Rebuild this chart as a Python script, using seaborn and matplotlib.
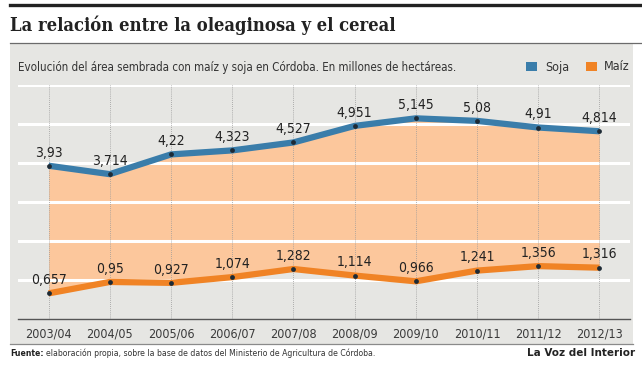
import matplotlib
matplotlib.use("Agg")
import matplotlib.pyplot as plt
import seaborn as sns
import pandas as pd
from matplotlib.patches import Rectangle
from matplotlib.lines import Line2D

# datos (millones de hectáreas)
campanas = ["2003/04", "2004/05", "2005/06", "2006/07", "2007/08",
            "2008/09", "2009/10", "2010/11", "2011/12", "2012/13"]
soja = [3.93, 3.714, 4.22, 4.323, 4.527, 4.951, 5.145, 5.08, 4.91, 4.814]
maiz = [0.657, 0.95, 0.927, 1.074, 1.282, 1.114, 0.966, 1.241, 1.356, 1.316]

df = pd.DataFrame({"idx": range(len(campanas)), "campana": campanas,
                   "soja": soja, "maiz": maiz})

AZUL = "#3a7daa"
NARANJA = "#f08325"
RELLENO = "#fcc79c"
GRIS = "#e6e6e3"
NARROW = dict(family=["DejaVu Sans"], fontstretch="condensed")

W, H = 642, 366
fig = plt.figure(figsize=(W / 100, H / 100), dpi=100)
fig.patch.set_facecolor("white")


def fx(px):
    return px / W


def fy(py):
    return 1 - py / H


# fondo gris y filetes
fig.patches.append(Rectangle((fx(10), fy(344)), fx(623), 301 / H, transform=fig.transFigure,
                             facecolor=GRIS, edgecolor="none", zorder=-5))
fig.lines.append(Line2D([fx(10), 1], [fy(5), fy(5)], transform=fig.transFigure,
                        color="#222222", lw=2.4))
fig.lines.append(Line2D([fx(10), 1], [fy(43), fy(43)], transform=fig.transFigure,
                        color="#6b6b6b", lw=0.9))
fig.lines.append(Line2D([fx(10), fx(633)], [fy(344), fy(344)], transform=fig.transFigure,
                        color="#8a8a8a", lw=0.9))

# titulo y subtitulo
fig.text(fx(10), fy(25), "La relación entre la oleaginosa y el cereal", fontsize=13.2,
         fontweight="bold", family=["DejaVu Serif"], fontstretch="condensed",
         color="#222222", va="center", ha="left")
fig.text(fx(18), fy(68), "Evolución del área sembrada con maíz y soja en Córdoba. En millones de hectáreas.",
         fontsize=8.3, color="#333333", va="center", ha="left", **NARROW)

# leyenda
fig.patches.append(Rectangle((fx(526), fy(71)), fx(11), 9 / H, transform=fig.transFigure,
                             facecolor=AZUL, edgecolor="none"))
fig.text(fx(545), fy(67), "Soja", fontsize=9, color="#333333", va="center", **NARROW)
fig.patches.append(Rectangle((fx(586), fy(71)), fx(11), 9 / H, transform=fig.transFigure,
                             facecolor=NARANJA, edgecolor="none"))
fig.text(fx(604), fy(67), "Maíz", fontsize=9, color="#333333", va="center", **NARROW)

ax = fig.add_axes([fx(18), fy(319), fx(612), 234 / H])
ax.set_facecolor("none")

# area entre las dos series
ax.fill_between(df["idx"], df["maiz"], df["soja"], color=RELLENO, lw=0, zorder=1)

for y in range(1, 7):
    ax.axhline(y, color="white", lw=2.2, zorder=2)
for i in df["idx"]:
    ax.axvline(i, color="#9a9a9a", lw=0.6, ls=(0, (1, 1.5)), zorder=2)

sns.lineplot(data=df, x="idx", y="soja", color=AZUL, lw=4.5, ax=ax, zorder=3,
             solid_capstyle="butt")
sns.lineplot(data=df, x="idx", y="maiz", color=NARANJA, lw=4.5, ax=ax, zorder=3,
             solid_capstyle="butt")
sns.scatterplot(data=df, x="idx", y="soja", color="#1d2a35", s=12, ax=ax, zorder=4, linewidth=0)
sns.scatterplot(data=df, x="idx", y="maiz", color="#1d2a35", s=12, ax=ax, zorder=4, linewidth=0)

for serie in ["soja", "maiz"]:
    for i, v in zip(df["idx"], df[serie]):
        ax.annotate(f"{v:g}".replace(".", ","), (i, v), xytext=(0, 9.5),
                    textcoords="offset points", ha="center", va="center",
                    fontsize=10, color="#222222", zorder=5, **NARROW)

ax.set_xlim(-0.5, 9.5)
ax.set_ylim(0, 6)
ax.set_xticks(df["idx"])
ax.set_xticklabels(campanas, fontsize=9, color="#3a3a3a", **NARROW)
ax.set_yticks([])
ax.tick_params(axis="x", length=0, pad=6)
ax.set_xlabel("")
ax.set_ylabel("")
for s in ["top", "left", "right"]:
    ax.spines[s].set_visible(False)
ax.spines["bottom"].set_color("#555555")
ax.spines["bottom"].set_linewidth(1)

# pie
fuente = fig.text(fx(10), fy(353), "Fuente:", fontsize=6.2, fontweight="bold",
                  color="#222222", va="center", **NARROW)
fig.add_artist(plt.Annotation(
    "elaboración propia, sobre la base de datos del Ministerio de Agricultura de Córdoba.",
    xy=(1, 0.5), xycoords=fuente, xytext=(2, 0), textcoords="offset points",
    fontsize=6.2, color="#333333", va="center", ha="left", **NARROW))
fig.text(fx(635), fy(353), "La Voz del Interior", fontsize=7.5, fontweight="bold",
         family=["DejaVu Sans"], color="#222222", va="center", ha="right")

fig.savefig("out.png", dpi=100)
